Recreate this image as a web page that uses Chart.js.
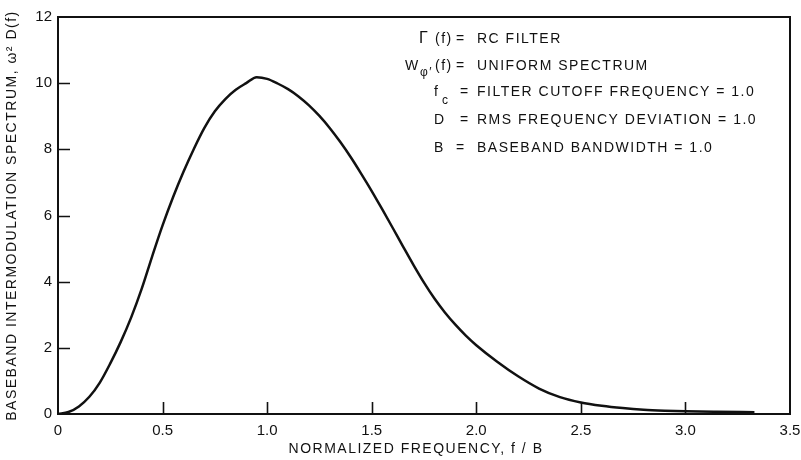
<!DOCTYPE html>
<html>
<head>
<meta charset="utf-8">
<script src="https://cdn.jsdelivr.net/npm/chart.js@4.4.1/dist/chart.umd.min.js"></script>
<style>
  html, body { margin: 0; padding: 0; background: #fff; }
</style>
</head>
<body>
<canvas id="c" width="801" height="460"></canvas>
<script>
// --- values ---
const freq = [0, 0.05, 0.1, 0.15, 0.2, 0.25, 0.3, 0.35, 0.4, 0.45, 0.5, 0.55, 0.6, 0.65, 0.7, 0.75, 0.8, 0.85, 0.9, 0.95,
    1.0, 1.05, 1.1, 1.15, 1.2, 1.25, 1.3, 1.35, 1.4, 1.45, 1.5, 1.55, 1.6, 1.65, 1.7, 1.75, 1.8, 1.85, 1.9, 1.95,
    2.0, 2.1, 2.2, 2.3, 2.4, 2.5, 2.6, 2.7, 2.8, 2.9, 3.0, 3.15, 3.33];
const spectrum = [0, 0.06, 0.23, 0.52, 0.95, 1.53, 2.18, 2.92, 3.78, 4.76, 5.7, 6.55, 7.32, 8.02, 8.65, 9.15, 9.52, 9.8, 10.0, 10.18,
    10.13, 9.99, 9.82, 9.6, 9.33, 9.01, 8.64, 8.22, 7.76, 7.26, 6.74, 6.19, 5.63, 5.06, 4.5, 3.97, 3.49, 3.07, 2.7, 2.37,
    2.08, 1.58, 1.14, 0.77, 0.51, 0.35, 0.25, 0.18, 0.13, 0.1, 0.08, 0.065, 0.055];
const xTicks = [0, 0.5, 1.0, 1.5, 2.0, 2.5, 3.0, 3.5];
const yTicks = [0, 2, 4, 6, 8, 10, 12];

const INK = '#111';
const FONT = '"Liberation Sans", Arial, Helvetica, sans-serif';

// frame, inward ticks, axis titles and the legend block
const paperPlugin = {
    id: 'paper',
    afterDraw(chart) {
        const ctx = chart.ctx;
        const a = chart.chartArea;
        const sx = chart.scales.x, sy = chart.scales.y;
        ctx.save();
        ctx.strokeStyle = INK;
        ctx.lineWidth = 2;
        ctx.strokeRect(a.left, a.top, a.right - a.left, a.bottom - a.top);

        ctx.lineWidth = 1.6;
        ctx.beginPath();
        xTicks.slice(1, -1).forEach(v => {
            const px = Math.round(sx.getPixelForValue(v)) + 0.5;
            ctx.moveTo(px, a.bottom);
            ctx.lineTo(px, a.bottom - 12);
        });
        yTicks.slice(1, -1).forEach(v => {
            const py = Math.round(sy.getPixelForValue(v)) + 0.5;
            ctx.moveTo(a.left, py);
            ctx.lineTo(a.left + 12, py);
        });
        ctx.stroke();

        ctx.fillStyle = INK;
        ctx.textBaseline = 'middle';
        ctx.letterSpacing = '1.5px';

        // x title
        ctx.font = '14px ' + FONT;
        ctx.textAlign = 'center';
        ctx.fillText('NORMALIZED FREQUENCY, f / B', 416, 449);

        // y title
        ctx.save();
        ctx.translate(12, (a.top + a.bottom) / 2);
        ctx.rotate(-Math.PI / 2);
        ctx.fillText('BASEBAND INTERMODULATION SPECTRUM, \u03c9\u00b2 D(f)', 0, 0);
        ctx.restore();

        // legend block
        ctx.textAlign = 'left';
        const t = (s, x, y, size) => { ctx.font = (size || 14) + 'px ' + FONT; ctx.fillText(s, x, y); };
        t('\u0393', 419, 39, 16);
        t('(f)', 435, 39, 14);
        t('=', 456, 39);
        t('RC FILTER', 477, 39);

        t('W', 405, 66, 14);
        t('\u03c6\u2032', 420, 73, 12);
        t('(f)', 435, 66, 14);
        t('=', 456, 66);
        t('UNIFORM SPECTRUM', 477, 66);

        t('f', 434, 92);
        t('c', 442, 101, 12);
        t('=', 460, 92);
        t('FILTER CUTOFF FREQUENCY = 1.0', 477, 92);

        t('D', 434, 120);
        t('=', 460, 120);
        t('RMS FREQUENCY DEVIATION = 1.0', 477, 120);

        t('B', 434, 148);
        t('=', 456, 148);
        t('BASEBAND BANDWIDTH = 1.0', 477, 148);
        ctx.restore();
    }
};

new Chart(document.getElementById('c'), {
    type: 'line',
    data: {
        datasets: [{
            data: freq.map((f, i) => ({ x: f, y: spectrum[i] })),
            borderColor: INK,
            borderWidth: 2.5,
            pointRadius: 0,
            fill: false,
            cubicInterpolationMode: 'monotone'
        }]
    },
    options: {
        responsive: false,
        animation: false,
        devicePixelRatio: 1,
        layout: { padding: { top: 17, right: 11, left: 0, bottom: 0 } },
        plugins: { legend: { display: false }, tooltip: { enabled: false } },
        scales: {
            x: {
                type: 'linear', min: 0, max: 3.5,
                grid: { display: false, drawTicks: false },
                border: { display: false },
                ticks: {
                    stepSize: 0.5, autoSkip: false, maxRotation: 0, padding: 8,
                    color: INK, font: { size: 15, family: FONT },
                    callback: v => v === 0 ? '0' : v.toFixed(1)
                },
                afterFit(s) { s.height = 46; s.paddingLeft = 0; s.paddingRight = 0; }
            },
            y: {
                min: 0, max: 12,
                grid: { display: false, drawTicks: false },
                border: { display: false },
                ticks: {
                    stepSize: 2, padding: 6,
                    color: INK, font: { size: 15, family: FONT }
                },
                afterFit(s) { s.width = 58; s.paddingTop = 0; s.paddingBottom = 0; }
            }
        }
    },
    plugins: [paperPlugin]
});
</script>
</body>
</html>
